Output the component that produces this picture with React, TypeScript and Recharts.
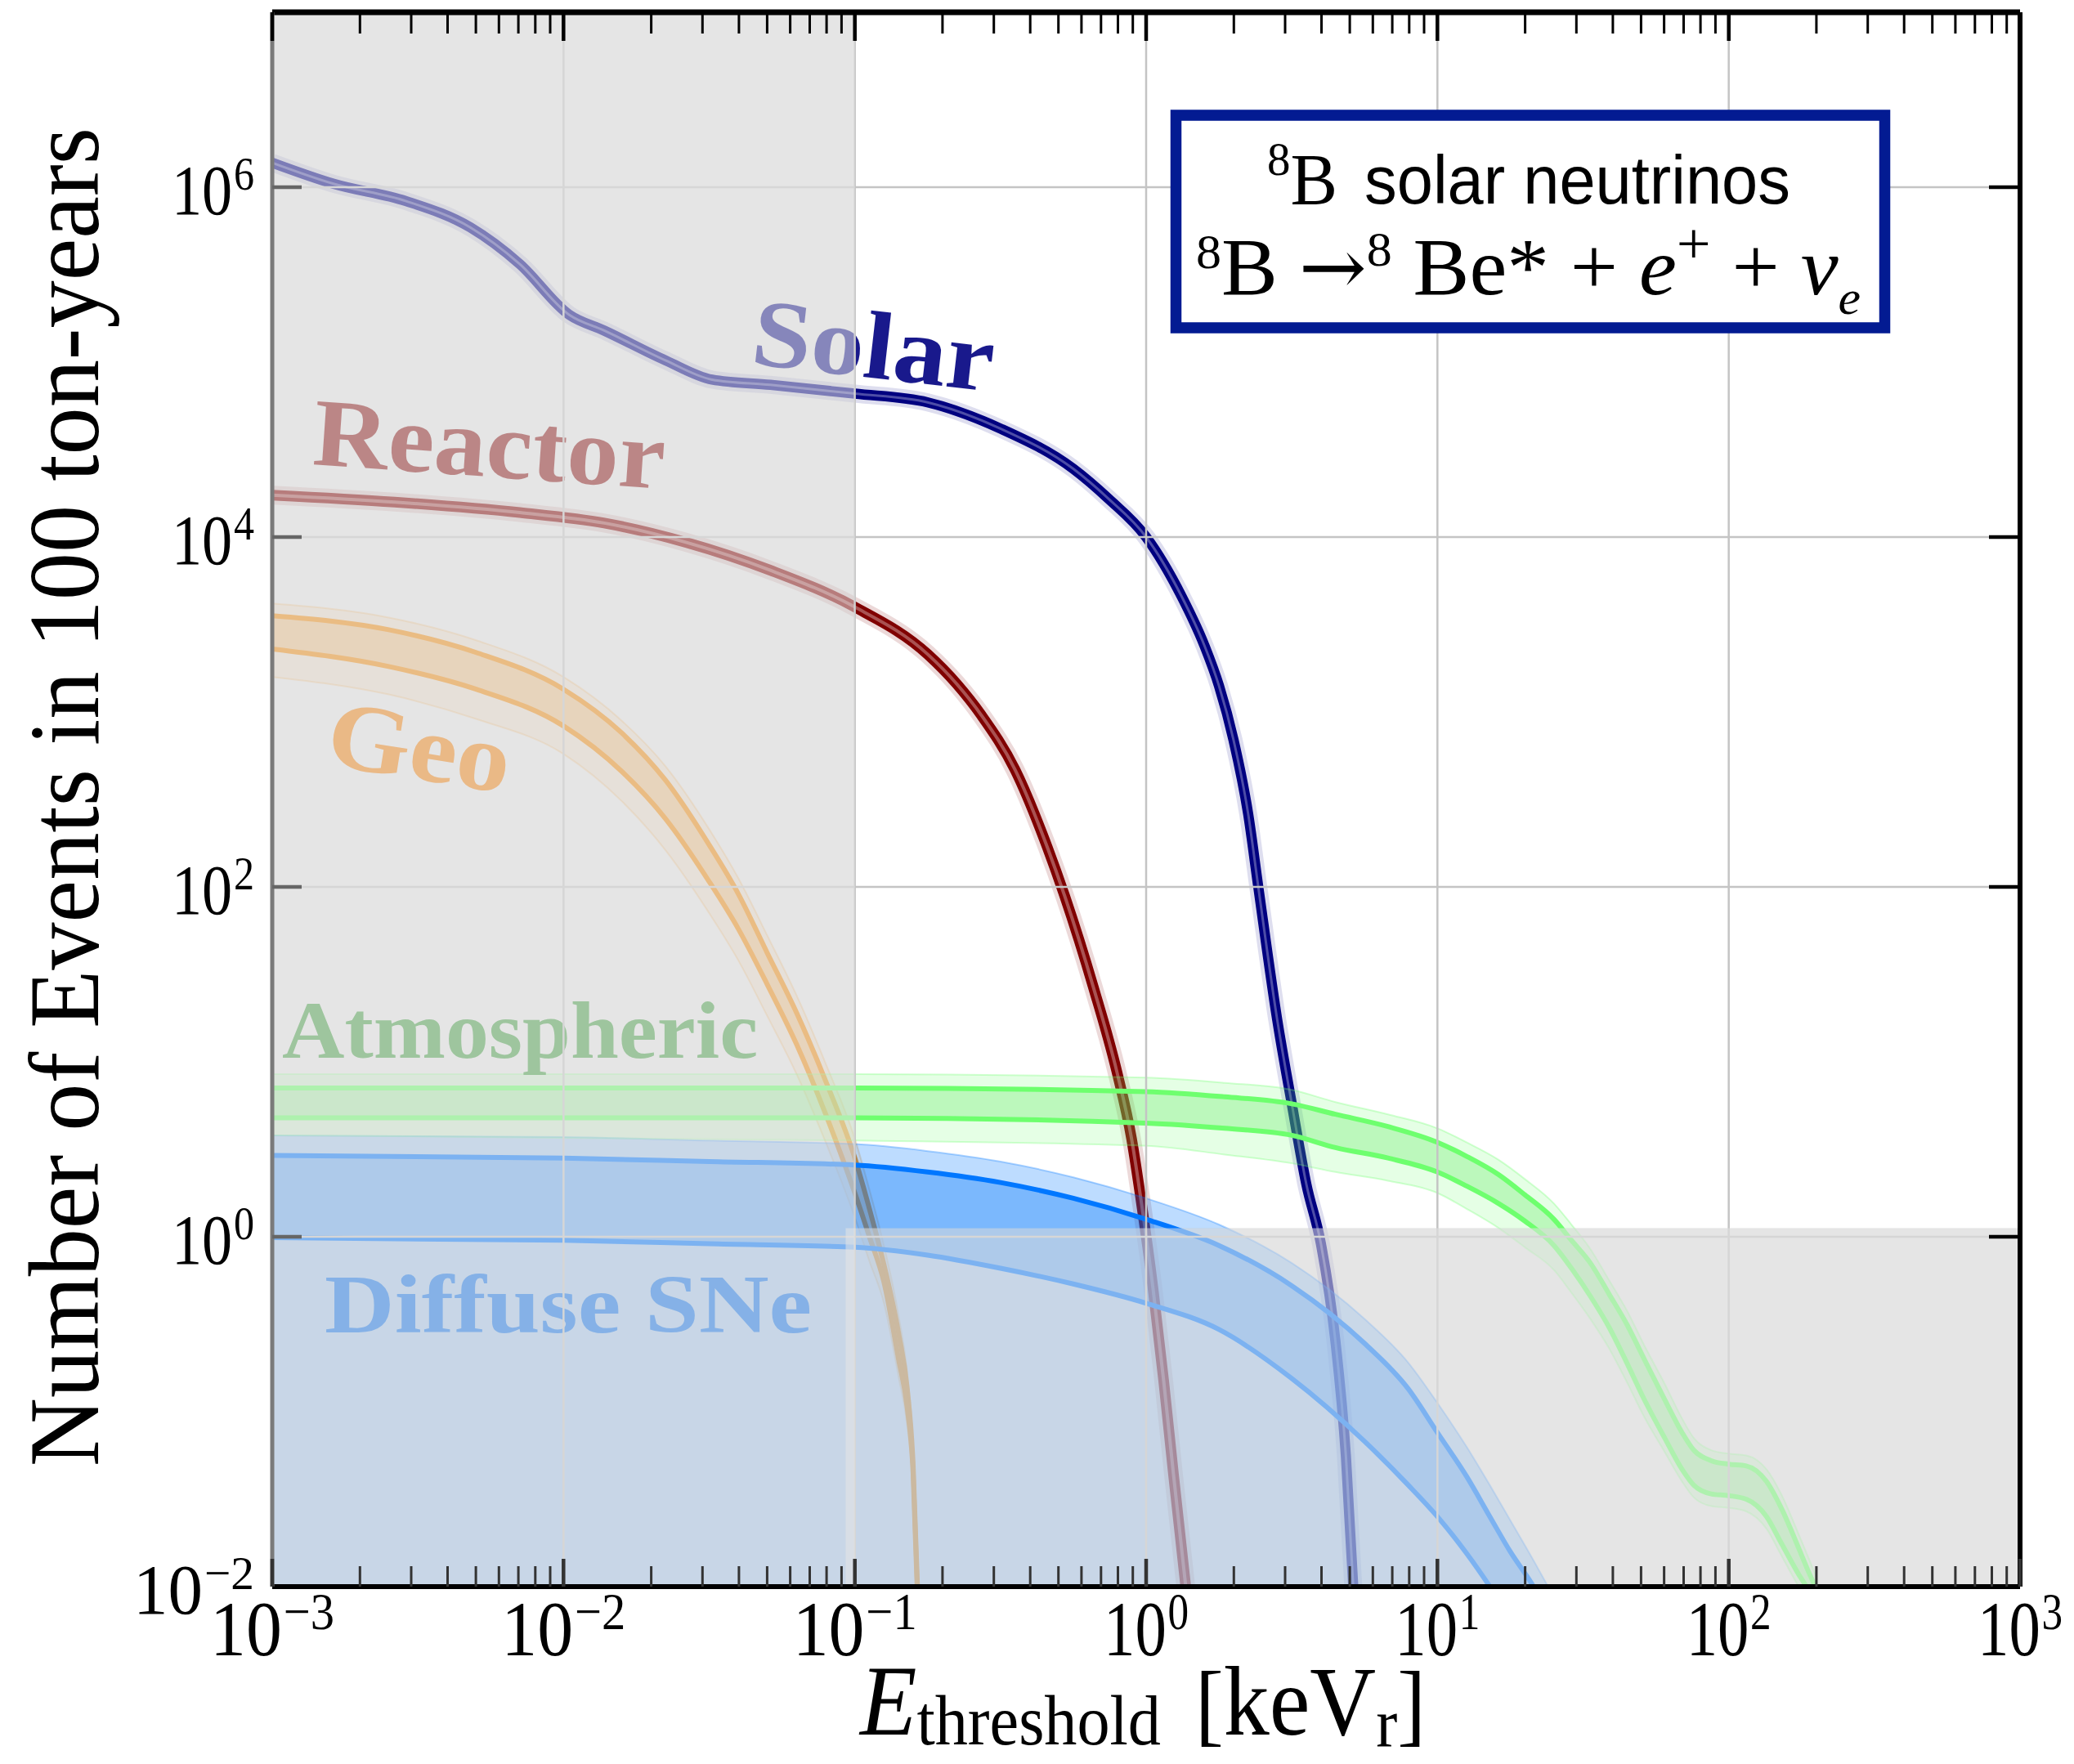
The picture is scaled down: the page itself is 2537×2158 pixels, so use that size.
import React from 'react';
import {
  ComposedChart,
  Line,
  Area,
  XAxis,
  YAxis,
  ReferenceArea,
  ReferenceDot,
  ReferenceLine,
} from 'recharts';

// ---------------------------------------------------------------------------
// Canvas / plot geometry (pixels)
// ---------------------------------------------------------------------------
const W = 2537;
const H = 2158;
const PLOT = { left: 333, right: 2471, top: 15, bottom: 1941 };

const SERIF = "'Liberation Serif', 'Times New Roman', serif";
const SANS = "'Liberation Sans', Arial, sans-serif";

// ---------------------------------------------------------------------------
// Axes
// ---------------------------------------------------------------------------
const X_MIN = 1e-3;
const X_MAX = 1e3;
const Y_MIN = 1e-2;
const Y_MAX = 1e7;
const X_DECADES = [1e-3, 1e-2, 1e-1, 1, 10, 100, 1000];
const X_MINOR_STEPS = [2, 3, 4, 5, 6, 7, 8, 9];
const Y_MAJOR = [1e-2, 1, 1e2, 1e4, 1e6];
const X_GRID = [1e-2, 1e-1, 1, 10, 100];
const Y_GRID = [1, 1e2, 1e4, 1e6];

// Shaded (experimentally inaccessible) regions
const LEFT_BAND_EDGE = 0.1; // keV, threshold limit
const LOW_BAND_LEFT = 0.093;
const LOW_BAND_TOP = 1.12; // events

// ---------------------------------------------------------------------------
// Event counts, stored as log10(E_threshold / keV) and log10(N)
// ---------------------------------------------------------------------------
const SOLAR_LOG_E = [-3, -2.79, -2.54, -2.32, -2.15, -1.98, -1.86, -1.65, -1.49, -1.29, -1.0, -0.75, -0.5, -0.25, -0.13, 0.0, 0.122, 0.2, 0.25, 0.3, 0.35, 0.385, 0.45, 0.5, 0.55, 0.6, 0.65, 0.686, 0.711];
const SOLAR_LOG_N = [6.14, 6.02, 5.92, 5.77, 5.56, 5.27, 5.18, 5.01, 4.9, 4.87, 4.82, 4.77, 4.62, 4.39, 4.22, 4.0, 3.66, 3.38, 3.15, 2.84, 2.42, 2.0, 1.24, 0.76, 0.3, -0.04, -0.6, -1.26, -2.0];

const REACTOR_LOG_E = [-3, -2.58, -2.15, -1.86, -1.58, -1.29, -1.0, -0.75, -0.65, -0.565, -0.45, -0.34, -0.28, -0.18, -0.1, -0.05, -0.015, 0.024, 0.06, 0.094, 0.136];
const REACTOR_LOG_N = [4.24, 4.2, 4.14, 4.08, 3.97, 3.81, 3.6, 3.33, 3.16, 2.98, 2.67, 2.23, 1.95, 1.42, 0.94, 0.56, 0.18, -0.3, -0.82, -1.36, -2.0];

const GEO_LOG_E = [-3, -2.6, -2.3, -2.0, -1.8, -1.65, -1.5, -1.4, -1.3, -1.2, -1.1, -1.0, -0.95, -0.9, -0.85, -0.82, -0.8, -0.785];
const GEO_HI = [3.55, 3.47, 3.34, 3.13, 2.88, 2.61, 2.24, 1.96, 1.62, 1.28, 0.89, 0.45, 0.16, -0.16, -0.55, -0.87, -1.3, -2.0];
const GEO_LO = [3.36, 3.26, 3.13, 2.92, 2.66, 2.39, 2.03, 1.76, 1.44, 1.1, 0.7, 0.25, 0.0, -0.26, -0.7, -0.98, -1.35, -2.05];
const GEO_OUT_HI = [3.62, 3.54, 3.41, 3.2, 2.95, 2.69, 2.33, 2.05, 1.72, 1.38, 0.99, 0.56, 0.27, -0.05, -0.45, -0.78, -1.2, -1.9];
const GEO_OUT_LO = [3.2, 3.1, 2.96, 2.76, 2.49, 2.21, 1.85, 1.58, 1.26, 0.93, 0.54, 0.11, -0.14, -0.38, -0.8, -1.08, -1.45, -2.1];

const SN_LOG_E = [-3, -2, -1.5, -1, -0.75, -0.5, -0.25, 0, 0.25, 0.5, 0.75, 0.9, 1.0, 1.1, 1.18, 1.25, 1.33, 1.38];
const SN_HI = [0.465, 0.45, 0.43, 0.41, 0.37, 0.31, 0.22, 0.1, -0.05, -0.28, -0.61, -0.87, -1.12, -1.37, -1.6, -1.8, -2.0, -2.15];
const SN_LO = [-0.005, -0.02, -0.04, -0.06, -0.105, -0.18, -0.27, -0.38, -0.53, -0.81, -1.17, -1.42, -1.6, -1.81, -2.0, -2.18, -2.4, -2.55];
const SN_OUT_HI = [0.58, 0.57, 0.55, 0.53, 0.49, 0.43, 0.34, 0.22, 0.07, -0.15, -0.47, -0.72, -0.95, -1.2, -1.42, -1.62, -1.85, -2.0];

const ATM_LOG_E = [-3, -1, 0, 0.27, 0.5, 0.65, 0.83, 1.0, 1.1, 1.21, 1.3, 1.4, 1.46, 1.525, 1.59, 1.65, 1.71, 1.78, 1.84, 1.88, 1.94, 2.0, 2.06, 2.13, 2.18, 2.24, 2.27, 2.3];
const ATM_HI = [0.85, 0.85, 0.83, 0.8, 0.76, 0.7, 0.63, 0.54, 0.46, 0.355, 0.24, 0.1, -0.02, -0.15, -0.33, -0.5, -0.7, -0.93, -1.12, -1.22, -1.28, -1.3, -1.31, -1.4, -1.55, -1.78, -1.9, -2.01];
const ATM_LO = [0.68, 0.68, 0.65, 0.62, 0.58, 0.51, 0.45, 0.37, 0.29, 0.19, 0.09, -0.05, -0.18, -0.34, -0.52, -0.72, -0.93, -1.15, -1.33, -1.42, -1.47, -1.48, -1.5, -1.6, -1.75, -1.93, -2.01, -2.12];
const ATM_OUT_HI = [0.93, 0.93, 0.91, 0.88, 0.84, 0.77, 0.7, 0.62, 0.54, 0.44, 0.33, 0.19, 0.07, -0.07, -0.25, -0.42, -0.62, -0.84, -1.04, -1.15, -1.22, -1.24, -1.25, -1.33, -1.47, -1.7, -1.82, -1.94];
const ATM_OUT_LO = [0.58, 0.55, 0.52, 0.47, 0.42, 0.37, 0.32, 0.25, 0.16, 0.05, -0.06, -0.19, -0.32, -0.47, -0.64, -0.83, -1.03, -1.23, -1.4, -1.49, -1.54, -1.55, -1.57, -1.67, -1.82, -2.0, -2.08, -2.2];

// ---------------------------------------------------------------------------
// Colours
// ---------------------------------------------------------------------------
const NAVY = '#000080';
const MAROON = '#800000';
const GEO = '#f08c10';
const SN = '#0077ff';
const SN_BASE = '#0074f4';
const ATM = '#6eff6e';
const ATM_FILL = '#5fef5f';
const SHADE = '#e5e5e5';
const GRID = '#c4c4c4';
const BOX = '#031b92';

// Series name tags, anchored in data coordinates (log10 units)
const SERIES_LABELS = [
  { text: 'Solar', logE: -1.362, logN: 4.99, rot: 6.5, color: NAVY, size: 118, len: 297 },
  { text: 'Reactor', logE: -2.865, logN: 4.416, rot: 4, color: MAROON, size: 118, len: 431 },
  { text: 'Geo', logE: -2.823, logN: 2.7, rot: 9, color: '#ef7a00', size: 118, len: 225 },
  { text: 'Atmospheric', logE: -2.966, logN: 1.023, rot: 0, color: '#399739', size: 100, len: 582 },
  { text: 'Diffuse SNe', logE: -2.82, logN: -0.547, rot: 0, color: '#046be9', size: 102, len: 596 },
];

// ---------------------------------------------------------------------------
// Tables for the library
// ---------------------------------------------------------------------------
const p10 = (v: number) => Math.pow(10, v);

const solarData = SOLAR_LOG_E.map((le, i) => ({ e: p10(le), n: p10(SOLAR_LOG_N[i]) }));
const reactorData = REACTOR_LOG_E.map((le, i) => ({ e: p10(le), n: p10(REACTOR_LOG_N[i]) }));
const geoData = GEO_LOG_E.map((le, i) => ({
  e: p10(le),
  hi: p10(GEO_HI[i]),
  lo: p10(GEO_LO[i]),
  oHi: p10(GEO_OUT_HI[i]),
  oLo: p10(GEO_OUT_LO[i]),
}));
const snData = SN_LOG_E.map((le, i) => ({
  e: p10(le),
  hi: p10(SN_HI[i]),
  lo: p10(SN_LO[i]),
  oHi: p10(SN_OUT_HI[i]),
}));
const atmData = ATM_LOG_E.map((le, i) => ({
  e: p10(le),
  hi: p10(ATM_HI[i]),
  lo: p10(ATM_LO[i]),
  oHi: p10(ATM_OUT_HI[i]),
  oLo: p10(ATM_OUT_LO[i]),
}));

// ---------------------------------------------------------------------------
// Frame tick marks (matplotlib-style, pointing inward), drawn as one path per edge
// ---------------------------------------------------------------------------
const X_MAJOR_TICKS = X_DECADES;
const X_MINOR_TICKS: number[] = [];
X_DECADES.forEach((d) => {
  if (d < X_MAX) X_MINOR_STEPS.forEach((k) => X_MINOR_TICKS.push(k * d));
});
const Y_FRAME_TICKS = Y_MAJOR.filter((v) => v > Y_MIN);

// same log mapping as the chart's axes
const xPx = (v: number) =>
  PLOT.left + ((Math.log10(v) - Math.log10(X_MIN)) / (Math.log10(X_MAX) - Math.log10(X_MIN))) * (PLOT.right - PLOT.left);
const yPx = (v: number) =>
  PLOT.bottom - ((Math.log10(v) - Math.log10(Y_MIN)) / (Math.log10(Y_MAX) - Math.log10(Y_MIN))) * (PLOT.bottom - PLOT.top);

const vTicks = (vals: number[], y0: number, len: number) =>
  vals.map((v) => `M${xPx(v).toFixed(1)} ${y0} v${len}`).join(' ');
const hTicks = (vals: number[], x0: number, len: number) =>
  vals.map((v) => `M${x0} ${yPx(v).toFixed(1)} h${len}`).join(' ');

const FrameTicks = () => (
  <g fill="none" strokeLinecap="butt">
    <path d={vTicks(X_MINOR_TICKS, PLOT.bottom, -25)} stroke="#333333" strokeWidth={3} />
    <path d={vTicks(X_MAJOR_TICKS, PLOT.bottom, -34)} stroke="#333333" strokeWidth={4.5} />
    <path d={vTicks(X_MINOR_TICKS, PLOT.top, 26)} stroke="#000000" strokeWidth={3} />
    <path d={vTicks(X_MAJOR_TICKS, PLOT.top, 35)} stroke="#000000" strokeWidth={4.5} />
    <path d={hTicks(Y_FRAME_TICKS, PLOT.left, 36)} stroke="#666666" strokeWidth={4.5} />
    <path d={hTicks(Y_FRAME_TICKS, PLOT.right, -38)} stroke="#000000" strokeWidth={4.5} />
  </g>
);

// ---------------------------------------------------------------------------
// Tick labels
// ---------------------------------------------------------------------------
const decadeOf = (v: number) => Math.round(Math.log10(v));
const expText = (p: number) => (p < 0 ? `\u2212${-p}` : `${p}`);

const BottomLabel = (props: any) => {
  const { x, payload } = props;
  const p = decadeOf(payload.value);
  return (
    <text x={x} y={2025} textAnchor="middle" fontFamily={SERIF} fill="#000" textLength={p < 0 ? 152 : 104} lengthAdjust="spacingAndGlyphs">
      <tspan fontSize={96}>10</tspan>
      <tspan fontSize={64} dy={-32} dx={2}>{expText(p)}</tspan>
    </text>
  );
};

const LeftLabel = (props: any) => {
  const { y, payload } = props;
  const p = decadeOf(payload.value);
  return (
    <text x={311} y={y + 33} textAnchor="end" fontFamily={SERIF} fill="#000" textLength={p < 0 ? 148 : 101} lengthAdjust="spacingAndGlyphs">
      <tspan fontSize={86}>10</tspan>
      <tspan fontSize={58} dy={-30} dx={2}>{expText(p)}</tspan>
    </text>
  );
};

const SeriesLabel = (props: any) => {
  const { cx, cy, text, color, size, len, rot } = props;
  return (
    <text
      x={cx}
      y={cy}
      transform={`rotate(${rot} ${cx} ${cy})`}
      fill={color}
      fillOpacity={0.9}
      fontFamily={SERIF}
      fontWeight="bold"
      fontSize={size}
      textLength={len}
      lengthAdjust="spacingAndGlyphs"
    >
      {text}
    </text>
  );
};

// Common props for series
const lineBase = { type: 'monotoneX' as const, dot: false, activeDot: false, isAnimationActive: false, xAxisId: 0, yAxisId: 0 };
const areaBase = { type: 'monotoneX' as const, stroke: 'none', dot: false, activeDot: false, isAnimationActive: false, xAxisId: 0, yAxisId: 0 };
const refBase = { xAxisId: 0, yAxisId: 0 };

export default function App() {
  return (
    <div style={{ position: 'absolute', left: 0, top: 0, width: W, height: H, background: '#fff' }}>
      <ComposedChart width={W} height={H} margin={{ top: 0, right: 0, bottom: 0, left: 0 }}>
        <XAxis
          xAxisId={0}
          dataKey="e"
          type="number"
          scale="log"
          domain={[X_MIN, X_MAX]}
          allowDataOverflow
          ticks={X_DECADES}
          interval={0}
          tickLine={false}
          axisLine={{ stroke: '#000', strokeWidth: 6 }}
          tick={BottomLabel}
          height={H - PLOT.bottom}
          zIndex={200}
        />
        <XAxis
          xAxisId="top"
          orientation="top"
          dataKey="e"
          type="number"
          scale="log"
          domain={[X_MIN, X_MAX]}
          allowDataOverflow
          ticks={X_DECADES}
          tickLine={false}
          tick={false}
          axisLine={{ stroke: '#000', strokeWidth: 7 }}
          height={PLOT.top}
          zIndex={201}
        />
        <YAxis
          yAxisId={0}
          type="number"
          scale="log"
          domain={[Y_MIN, Y_MAX]}
          allowDataOverflow
          ticks={Y_MAJOR}
          interval={0}
          tickLine={false}
          axisLine={{ stroke: '#7a7a7a', strokeWidth: 5 }}
          tick={LeftLabel}
          width={PLOT.left}
          zIndex={202}
        />
        <YAxis
          yAxisId="right"
          orientation="right"
          type="number"
          scale="log"
          domain={[Y_MIN, Y_MAX]}
          allowDataOverflow
          ticks={Y_MAJOR}
          tickLine={false}
          tick={false}
          axisLine={{ stroke: '#000', strokeWidth: 6 }}
          width={W - PLOT.right}
          zIndex={203}
        />

        {/* shaded backgrounds */}
        <ReferenceArea {...refBase} x1={X_MIN} x2={LEFT_BAND_EDGE} y1={Y_MIN} y2={Y_MAX} fill={SHADE} fillOpacity={1} stroke="none" zIndex={10} />
        <ReferenceArea {...refBase} x1={LOW_BAND_LEFT} x2={X_MAX} y1={Y_MIN} y2={LOW_BAND_TOP} fill={SHADE} fillOpacity={1} stroke="none" zIndex={11} />

        {/* Solar */}
        <Line {...lineBase} data={solarData} dataKey="n" stroke={NAVY} strokeWidth={22} strokeOpacity={0.13} zIndex={20} />
        <Line {...lineBase} data={solarData} dataKey="n" stroke={NAVY} strokeWidth={12.5} zIndex={21} />
        <Line {...lineBase} data={solarData} dataKey="n" stroke="#ffffff" strokeWidth={3} strokeOpacity={0.3} zIndex={22} />

        {/* Reactor */}
        <Line {...lineBase} data={reactorData} dataKey="n" stroke={MAROON} strokeWidth={23} strokeOpacity={0.15} zIndex={30} />
        <Line {...lineBase} data={reactorData} dataKey="n" stroke={MAROON} strokeWidth={13} zIndex={31} />
        <Line {...lineBase} data={reactorData} dataKey="n" stroke="#ffffff" strokeWidth={4} strokeOpacity={0.32} zIndex={32} />

        {/* Geo */}
        <Area {...areaBase} data={geoData} dataKey={(d: any) => [d.hi, d.oHi]} fill={GEO} fillOpacity={0.12} zIndex={40} />
        <Area {...areaBase} data={geoData} dataKey={(d: any) => [d.oLo, d.lo]} fill={GEO} fillOpacity={0.12} zIndex={41} />
        <Area {...areaBase} data={geoData} dataKey={(d: any) => [d.lo, d.hi]} fill={GEO} fillOpacity={0.42} zIndex={42} />
        <Line {...lineBase} data={geoData} dataKey="oHi" stroke={GEO} strokeWidth={2} strokeOpacity={0.25} zIndex={43} />
        <Line {...lineBase} data={geoData} dataKey="oLo" stroke={GEO} strokeWidth={2} strokeOpacity={0.25} zIndex={44} />
        <Line {...lineBase} data={geoData} dataKey="hi" stroke={GEO} strokeWidth={6} zIndex={45} />
        <Line {...lineBase} data={geoData} dataKey="lo" stroke={GEO} strokeWidth={6} zIndex={46} />

        {/* Diffuse supernovae */}
        <Area {...areaBase} data={snData} dataKey={(d: any) => [Y_MIN, d.hi]} fill={SN_BASE} fillOpacity={0.28} zIndex={50} />
        <Area {...areaBase} data={snData} dataKey={(d: any) => [d.hi, d.oHi]} fill={SN} fillOpacity={0.26} zIndex={51} />
        <Area {...areaBase} data={snData} dataKey={(d: any) => [d.lo, d.hi]} fill={SN} fillOpacity={0.33} zIndex={52} />
        <Line {...lineBase} data={snData} dataKey="oHi" stroke={SN} strokeWidth={2} strokeOpacity={0.3} zIndex={53} />
        <Line {...lineBase} data={snData} dataKey="hi" stroke={SN} strokeWidth={6} zIndex={54} />
        <Line {...lineBase} data={snData} dataKey="lo" stroke={SN} strokeWidth={6} zIndex={55} />

        {/* Atmospheric */}
        <Area {...areaBase} data={atmData} dataKey={(d: any) => [d.hi, d.oHi]} fill={ATM} fillOpacity={0.18} zIndex={60} />
        <Area {...areaBase} data={atmData} dataKey={(d: any) => [d.oLo, d.lo]} fill={ATM} fillOpacity={0.18} zIndex={61} />
        <Area {...areaBase} data={atmData} dataKey={(d: any) => [d.lo, d.hi]} fill={ATM_FILL} fillOpacity={0.42} zIndex={62} />
        <Line {...lineBase} data={atmData} dataKey="oHi" stroke={ATM} strokeWidth={2} strokeOpacity={0.3} zIndex={63} />
        <Line {...lineBase} data={atmData} dataKey="oLo" stroke={ATM} strokeWidth={2} strokeOpacity={0.3} zIndex={64} />
        <Line {...lineBase} data={atmData} dataKey="hi" stroke={ATM} strokeWidth={6} zIndex={65} />
        <Line {...lineBase} data={atmData} dataKey="lo" stroke={ATM} strokeWidth={6} zIndex={66} />

        {/* series names */}
        {SERIES_LABELS.map((l, i) => (
          <ReferenceDot
            key={l.text}
            {...refBase}
            x={p10(l.logE)}
            y={p10(l.logN)}
            r={1}
            ifOverflow="visible"
            zIndex={70 + i}
            shape={(p: any) => <SeriesLabel cx={p.cx} cy={p.cy} {...l} />}
          />
        ))}

        {/* grid */}
        {X_GRID.map((v) => (
          <ReferenceLine key={`gx${v}`} {...refBase} x={v} stroke={GRID} strokeWidth={2.5} zIndex={80} />
        ))}
        {Y_GRID.map((v) => (
          <ReferenceLine key={`gy${v}`} {...refBase} y={v} stroke={GRID} strokeWidth={2.5} zIndex={81} />
        ))}

        {/* translucent veil over the inaccessible regions */}
        <ReferenceArea {...refBase} x1={X_MIN} x2={LEFT_BAND_EDGE} y1={Y_MIN} y2={Y_MAX} fill={SHADE} fillOpacity={0.54} stroke="none" zIndex={95} />
        <ReferenceArea {...refBase} x1={LOW_BAND_LEFT} x2={X_MAX} y1={Y_MIN} y2={LOW_BAND_TOP} fill={SHADE} fillOpacity={0.54} stroke="none" zIndex={96} />
      </ComposedChart>

      <svg width={W} height={H} style={{ position: 'absolute', left: 0, top: 0, pointerEvents: 'none' }}>
        <FrameTicks />

        {/* axis titles */}
        <text
          transform="translate(120 975) rotate(-90)"
          textAnchor="middle"
          fontFamily={SERIF}
          fontSize={122}
          fill="#000"
          textLength={1638}
          lengthAdjust="spacingAndGlyphs"
        >
          Number of Events in 100 ton-years
        </text>
        <text x={1052} y={2122} fontFamily={SERIF} fill="#000" textLength={692} lengthAdjust="spacingAndGlyphs">
          <tspan fontStyle="italic" fontSize={122}>E</tspan>
          <tspan fontSize={86} dy={12}>threshold</tspan>
          <tspan fontSize={112} dy={-12} dx={45}>[</tspan>
          <tspan fontSize={120}>keV</tspan>
          <tspan fontSize={84} dy={14}>r</tspan>
          <tspan fontSize={112} dy={-14}>]</tspan>
        </text>

        {/* decay annotation */}
        <rect x={1438.5} y={141} width={867} height={260} fill="#fff" stroke={BOX} strokeWidth={13.5} />
        <text x={1550} y={249} fontFamily={SERIF} fill="#000" textLength={86} lengthAdjust="spacingAndGlyphs">
          <tspan fontSize={58} dy={-35}>8</tspan>
          <tspan fontSize={88} dy={35}>B</tspan>
        </text>
        <text x={1669} y={249} fontFamily={SANS} fontSize={84} fill="#000" textLength={521} lengthAdjust="spacingAndGlyphs">
          solar neutrinos
        </text>
        <text x={1463} y={360} fontFamily={SERIF} fill="#000" textLength={813} lengthAdjust="spacingAndGlyphs">
          <tspan fontSize={60} dy={-32}>8</tspan>
          <tspan fontSize={100} dy={32}>B </tspan>
          <tspan fontSize={96} fontFamily="'DejaVu Serif', serif">{'\u2192'}</tspan>
          <tspan fontSize={60} dy={-35}>8</tspan>
          <tspan fontSize={100} dy={35}> Be* + </tspan>
          <tspan fontSize={100} fontStyle="italic">e</tspan>
          <tspan fontSize={72} dy={-38}>+</tspan>
          <tspan fontSize={100} dy={38}> + </tspan>
          <tspan fontSize={100} fontStyle="italic">{'\u03bd'}</tspan>
          <tspan fontSize={60} fontStyle="italic" dy={24}>e</tspan>
        </text>
      </svg>
    </div>
  );
}
